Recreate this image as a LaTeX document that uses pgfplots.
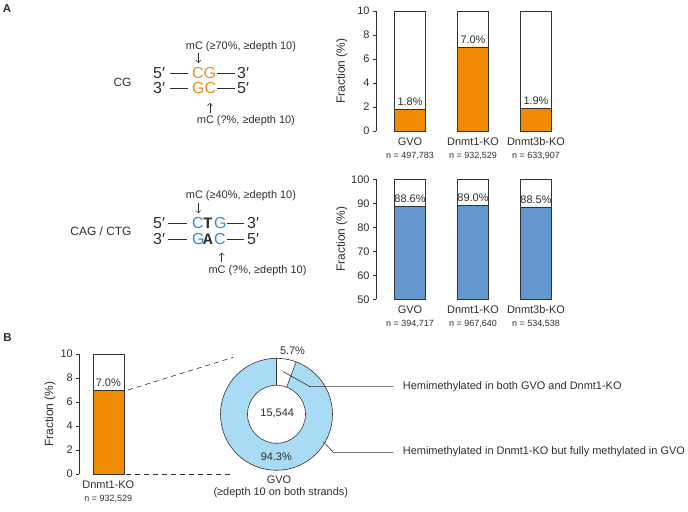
\documentclass[border=0pt]{standalone}
\usepackage{fontspec}
\setmainfont{Liberation Sans}
\newfontfamily\monobold{Liberation Mono}[BoldFont={* Bold}]
\usepackage{pgfplots}
\pgfplotsset{compat=1.18}
\usetikzlibrary{arrows.meta}
\definecolor{barorange}{HTML}{F08A00}
\definecolor{barblue}{HTML}{6497D0}
\definecolor{ringblue}{HTML}{A9DBF5}
\definecolor{seqorange}{HTML}{EE8A1E}
\definecolor{seqblue}{HTML}{2C8ED0}
\definecolor{txt}{HTML}{2E2E2E}
\newcommand{\fs}[1]{\fontsize{#1}{#1}\selectfont}

\pgfplotsset{
  fracaxis/.style={
    scale only axis, height=120bp,
    axis y line*=left, axis x line*=bottom,
    x axis line style={draw=none},
    xtick style={draw=none},
    ytick style={draw=txt, line width=0.5pt},
    y axis line style={draw=txt, line width=0.5pt},
    tick align=outside, major tick length=3bp,
    yticklabel style={font=\fs{11}, text=txt},
    /pgf/number format/assume math mode=true,
    xticklabel style={align=center, font=\fontsize{11}{13}\selectfont, text=txt},
    ylabel style={font=\fs{12}, text=txt, anchor=center},
    clip=false,
  },
  bgbar/.style={ybar, bar width=31bp, bar shift=0pt, fill=white, draw=black!80, line width=0.6pt},
  valbar/.style={ybar, bar width=31bp, bar shift=0pt, draw=black!80, line width=0.6pt,
    point meta=explicit symbolic, nodes near coords,
    nodes near coords style={font=\fs{11}, text=txt, anchor=south}},
}

% donut data (percent)
\def\hemiBoth{5.7}
\def\hemiKO{94.3}
\pgfmathsetmacro{\segend}{90-\hemiBoth*3.6}

\begin{document}
\begin{tikzpicture}
\useasboundingbox (0,0) rectangle (688bp,512bp);

% panel letters
\node[font=\bfseries\fs{11.5}, anchor=base west, inner sep=0, text=txt] at (2.7bp,499.7bp) {A};
\node[font=\bfseries\fs{11.5}, anchor=base west, inner sep=0, text=txt] at (3.3bp,170.3bp) {B};

% ---------- CG structure ----------
\node[font=\fs{12}, anchor=base east, inner sep=0, text=txt] at (131.7bp,425.3bp) {CG};
\begin{scope}[every node/.style={font=\fs{16}, anchor=base west, inner sep=0, text=txt}]
\node at (153bp,433.7bp) {5′};
\node at (192bp,433.7bp) {\color{seqorange}CG};
\node at (237bp,433.7bp) {3′};
\node at (153bp,418.7bp) {3′};
\node at (192bp,418.7bp) {\color{seqorange}GC};
\node at (237bp,418.7bp) {5′};
\end{scope}
\begin{scope}[txt, line width=1.3bp]
\draw (170bp,438.5bp) -- (188bp,438.5bp);
\draw (217bp,438.5bp) -- (235bp,438.5bp);
\draw (170bp,423.5bp) -- (188bp,423.5bp);
\draw (217bp,423.5bp) -- (235bp,423.5bp);
\end{scope}
\node[font=\fs{11}, anchor=base west, inner sep=0, text=txt] at (185.7bp,462.7bp) {mC (≥70\%, ≥depth 10)};
\node[font=\fs{11}, anchor=base west, inner sep=0, text=txt] at (196.7bp,388.7bp) {mC (?\%, ≥depth 10)};
\draw[txt, line width=0.5pt, -{Straight Barb[length=2.5bp,width=5bp]}] (198.3bp,459bp) -- (198.3bp,449bp);
\draw[txt, line width=0.5pt, -{Straight Barb[length=2.5bp,width=5bp]}] (210bp,399bp) -- (210bp,409bp);

% ---------- CAG/CTG structure ----------
\node[font=\fs{12}, anchor=base east, inner sep=0, text=txt] at (131.7bp,276bp) {CAG / CTG};
\begin{scope}[every node/.style={font=\fs{16}, anchor=base west, inner sep=0, text=txt}]
\node at (153bp,283.7bp) {5′};
\node at (192bp,283.7bp) {\color{seqblue}C};
\node at (203bp,283.7bp) {\monobold\bfseries T};
\node at (214bp,283.7bp) {\color{seqblue}G};
\node at (247bp,283.7bp) {3′};
\node at (153bp,267.7bp) {3′};
\node at (192bp,267.7bp) {\color{seqblue}G};
\node at (203bp,267.7bp) {\monobold\bfseries A};
\node at (214bp,267.7bp) {\color{seqblue}C};
\node at (247bp,267.7bp) {5′};
\end{scope}
\begin{scope}[txt, line width=1.3bp]
\draw (168bp,288.5bp) -- (187bp,288.5bp);
\draw (227bp,288.5bp) -- (244bp,288.5bp);
\draw (168bp,272.5bp) -- (187bp,272.5bp);
\draw (227bp,272.5bp) -- (244bp,272.5bp);
\end{scope}
\node[font=\fs{11}, anchor=base west, inner sep=0, text=txt] at (185.7bp,313bp) {mC (≥40\%, ≥depth 10)};
\node[font=\fs{11}, anchor=base west, inner sep=0, text=txt] at (208.3bp,238.7bp) {mC (?\%, ≥depth 10)};
\draw[txt, line width=0.5pt, -{Straight Barb[length=2.5bp,width=5bp]}] (198.3bp,309.3bp) -- (198.3bp,298.7bp);
\draw[txt, line width=0.5pt, -{Straight Barb[length=2.5bp,width=5bp]}] (221.7bp,250.3bp) -- (221.7bp,259.3bp);

% ---------- A: CG fractions ----------
\begin{axis}[fracaxis, at={(376bp,381bp)}, anchor=south west, width=194bp,
  xmin=-0.54, xmax=2.54, ymin=0, ymax=10, ytick={0,2,...,10},
  xtick={0,1,2},
  xticklabels={{GVO\\{\fs{9}n = 497,783}},{Dnmt1-KO\\{\fs{9}n = 932,529}},{Dnmt3b-KO\\{\fs{9}n = 633,907}}},
  ylabel={Fraction (\%)}, ylabel style={at={(axis description cs:-0.177,0.5)}}]
\addplot[bgbar] coordinates {(0,10) (1,10) (2,10)};
\addplot[valbar, fill=barorange] coordinates {(0,1.8) [1.8\%] (1,7.0) [7.0\%] (2,1.9) [1.9\%]};
\end{axis}

% ---------- A: CAG/CTG fractions ----------
\begin{axis}[fracaxis, at={(376bp,212.7bp)}, anchor=south west, width=194bp,
  y filter/.expression={y-50},
  xmin=-0.54, xmax=2.54, ymin=0, ymax=50, ytick={0,10,...,50},
  yticklabels={50,60,70,80,90,100},
  xtick={0,1,2},
  xticklabels={{GVO\\{\fs{9}n = 394,717}},{Dnmt1-KO\\{\fs{9}n = 967,640}},{Dnmt3b-KO\\{\fs{9}n = 534,538}}},
  ylabel={Fraction (\%)}, ylabel style={at={(axis description cs:-0.177,0.5)}}]
\addplot[bgbar] coordinates {(0,100) (1,100) (2,100)};
\addplot[valbar, fill=barblue] coordinates {(0,88.6) [88.6\%] (1,89.0) [89.0\%] (2,88.5) [88.5\%]};
\end{axis}

% ---------- B: Dnmt1-KO bar ----------
\begin{axis}[fracaxis, at={(79.3bp,38bp)}, anchor=south west, width=58bp,
  xmin=-0.46, xmax=0.46, ymin=0, ymax=10, ytick={0,2,...,10},
  xtick={0},
  xticklabels={{Dnmt1-KO\\{\fs{9}n = 932,529}}},
  ylabel={Fraction (\%)}, ylabel style={at={(axis description cs:-0.505,0.5)}}]
\addplot[bgbar] coordinates {(0,10)};
\addplot[valbar, fill=barorange] coordinates {(0,7.0) [7.0\%]};
\end{axis}

% dashed connectors
\draw[txt, line width=0.6pt, dash pattern=on 5bp off 4bp] (128bp,122bp) -- (233.3bp,154.7bp);
\draw[txt, line width=0.6pt, dash pattern=on 5bp off 4bp] (126bp,38bp) -- (233.3bp,38bp);

% ---------- B: donut ----------
\begin{axis}[at={(276.5bp,97.7bp)}, anchor=center, scale only axis, width=112bp, height=112bp,
  xmin=-1, xmax=1, ymin=-1, ymax=1, hide axis, clip=false]
\fill[ringblue] (axis cs:0,0) circle[radius=56bp];
\fill[white] (axis cs:0,0) -- ++(90:56bp) arc[start angle=90, end angle=\segend, radius=56bp] -- cycle;
\draw[black!80, line width=0.6pt] (axis cs:0,0) circle[radius=56bp];
\filldraw[fill=white, draw=black!80, line width=0.6pt] (axis cs:0,0) circle[radius=29bp];
\draw[black!80, line width=0.6pt] (axis cs:0,0) ++(90:29bp) -- ++(90:27bp);
\draw[black!80, line width=0.6pt] (axis cs:0,0) ++(\segend:29bp) -- ++(\segend:27bp);
\end{axis}
\node[font=\fs{11}, text=txt] at (292.5bp,161.2bp) {\hemiBoth\%};
\node[font=\fs{11}, text=txt] at (277.2bp,99bp) {15,544};
\node[font=\fs{11}, text=txt] at (276.3bp,55.3bp) {\hemiKO\%};
\node[font=\fs{11}, text=txt] at (279bp,32bp) {GVO};
\node[font=\fs{11}, text=txt] at (280.8bp,19bp) {(≥depth 10 on both strands)};

% leader lines
\draw[txt, line width=0.6pt] (283.3bp,140.3bp) -- (310bp,125.3bp) -- (393.3bp,125.3bp);
\draw[txt, line width=0.6pt] (323.3bp,70.3bp) -- (333.3bp,59.7bp) -- (393.3bp,59.7bp);
\node[font=\fs{11}, text=txt, anchor=west, inner sep=0] at (402.7bp,125.8bp) {Hemimethylated in both GVO and Dnmt1-KO};
\node[font=\fs{11}, text=txt, anchor=west, inner sep=0] at (402.7bp,60.2bp) {Hemimethylated in Dnmt1-KO but fully methylated in GVO};
\end{tikzpicture}
\end{document}
